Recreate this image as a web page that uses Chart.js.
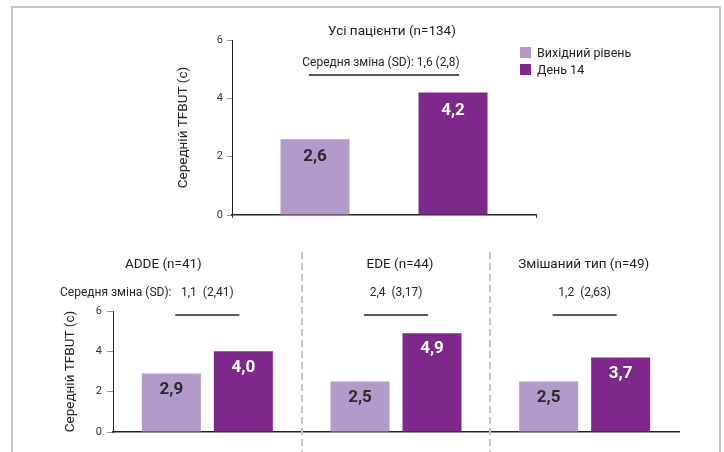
<!DOCTYPE html>
<html lang="uk">
<head>
<meta charset="utf-8">
<script src="https://cdn.jsdelivr.net/npm/chart.js@4.4.1/dist/chart.umd.min.js"></script>
<style>
  html, body { margin: 0; padding: 0; background: #fff; }
  #wrap { position: relative; width: 724px; height: 452px; overflow: hidden; font-family: Roboto, sans-serif; }
  #frame { position: absolute; left: 11px; top: 6px; width: 706px; height: 470px; border: 2px solid #c6c6c6; border-bottom: none; }
  canvas { position: absolute; left: 0; top: 0; }
  .legend { position: absolute; left: 520px; top: 44px; font-size: 12.5px; color: #222; }
  .legend-item { display: flex; align-items: center; height: 17px; }
  .legend-swatch { width: 11px; height: 11px; margin-right: 6px; }
</style>
</head>
<body>
<div id="wrap">
  <div id="frame"></div>
  <canvas id="bottom" width="724" height="452"></canvas>
  <canvas id="top" width="724" height="452"></canvas>
  <div class="legend" id="legend"></div>
</div>
<script>
// ---- data ----
const seriesNames = ['Вихідний рівень', 'День 14'];
const seriesColors = ['#b29aca', '#7f288c'];

const allTitle = ['Усі пацієнти (n=134)'];
const allBaseline = [2.6];
const allDay14 = [4.2];
const allChange = [1.6];
const allChangeSD = [2.8];

const groups = ['ADDE (n=41)', 'EDE (n=44)', 'Змішаний тип (n=49)'];
const grpBaseline = [2.9, 2.5, 2.5];
const grpDay14 = [4.0, 4.9, 3.7];
const grpChange = [1.1, 2.4, 1.2];
const grpChangeSD = [2.41, 3.17, 2.63];

const yTitle = 'Середній TFBUT (с)';
const changeLabel = 'Середня зміна (SD):';
const yMax = 6, yStep = 2;

const comma = v => String(v).replace('.', ',');
const fixed1 = v => v.toFixed(1).replace('.', ',');

// titles, change text, rules, separators and in-bar values
const panelText = {
  id: 'panelText',
  afterDraw(chart, args, o) {
    const { ctx } = chart;
    const x = chart.scales.x;
    ctx.save();
    ctx.textAlign = 'center';
    ctx.textBaseline = 'middle';

    chart.data.datasets.forEach((ds, di) => {
      chart.getDatasetMeta(di).data.forEach((bar, i) => {
        ctx.fillStyle = di === 0 ? '#2b2b2b' : '#ffffff';
        ctx.font = 'bold 17px Roboto';
        ctx.fillText(fixed1(ds.data[i]), bar.x, bar.y + o.labelDrop);
      });
    });

    const n = chart.data.labels.length;
    for (let i = 0; i < n; i++) {
      const cx = x.getPixelForValue(i);
      ctx.fillStyle = '#1e1e1e';
      ctx.font = '13.5px Roboto';
      ctx.fillText(o.titles[i], cx + o.titleShift[i], o.titleY);
      ctx.font = '12px Roboto';
      ctx.fillStyle = '#262626';
      ctx.fillText(o.changeText(i), cx + o.changeShift, o.changeY);
      ctx.strokeStyle = '#222';
      ctx.lineWidth = 1.5;
      ctx.beginPath();
      ctx.moveTo(cx - o.ruleHalf, o.ruleY);
      ctx.lineTo(cx + o.ruleHalf, o.ruleY);
      ctx.stroke();
      if (o.separators && i < n - 1) {
        const sx = Math.round((cx + x.getPixelForValue(i + 1)) / 2);
        ctx.strokeStyle = '#c8c8c8';
        ctx.lineWidth = 2;
        ctx.setLineDash([7, 4]);
        ctx.beginPath();
        ctx.moveTo(sx, o.sepTop);
        ctx.lineTo(sx, chart.height);
        ctx.stroke();
        ctx.setLineDash([]);
      }
    }
    if (o.leftLabel) {
      ctx.textAlign = 'left';
      ctx.font = '12px Roboto';
      ctx.fillStyle = '#262626';
      ctx.fillText(o.leftLabel, o.leftLabelX, o.changeY);
    }
    ctx.restore();
  }
};

function datasets(base, day) {
  return [base, day].map((d, i) => ({
    label: seriesNames[i],
    data: d,
    backgroundColor: seriesColors[i],
    borderWidth: 0
  }));
}

function scales(yWidth, tickLen, tickPad, xTickLen) {
  return {
    x: {
      ticks: { display: false },
      grid: { display: xTickLen > 0, drawOnChartArea: false, drawTicks: true, tickLength: xTickLen, color: '#444' },
      border: { display: true, color: '#222', width: 1.5 },
      afterFit: s => { s.height = 0; }
    },
    y: {
      min: 0, max: yMax,
      ticks: { stepSize: yStep, color: '#333', font: { family: 'Roboto', size: 11 }, padding: tickPad },
      grid: { drawOnChartArea: false, drawTicks: true, tickLength: tickLen, color: '#999' },
      border: { display: true, color: '#222', width: 1 },
      title: { display: true, text: yTitle, color: '#262626', font: { family: 'Roboto', size: 13.5 }, padding: { top: 6, bottom: 0 } },
      afterFit: s => { s.width = yWidth; }
    }
  };
}

const common = {
  responsive: false,
  animation: false,
  devicePixelRatio: 1,
  events: []
};

new Chart(document.getElementById('top'), {
  type: 'bar',
  data: { labels: allTitle, datasets: datasets(allBaseline, allDay14) },
  options: Object.assign({}, common, {
    layout: { padding: { left: 170, top: 40, right: 188, bottom: 237 } },
    datasets: { bar: { categoryPercentage: 0.908, barPercentage: 0.5 } },
    scales: scales(62, 5, 4, 3),
    plugins: {
      legend: { display: false },
      tooltip: { enabled: false },
      panelText: {
        labelDrop: 18,
        titles: allTitle, titleShift: [8], titleY: 32,
        changeText: i => changeLabel + ' ' + comma(allChange[i]) + ' (' + comma(allChangeSD[i]) + ')',
        changeShift: -3, changeY: 63,
        ruleHalf: 75, ruleY: 75
      }
    }
  }),
  plugins: [panelText]
});

new Chart(document.getElementById('bottom'), {
  type: 'bar',
  data: { labels: groups, datasets: datasets(grpBaseline, grpDay14) },
  options: Object.assign({}, common, {
    layout: { padding: { left: 57, top: 311, right: 45, bottom: 20 } },
    datasets: { bar: { categoryPercentage: 0.763, barPercentage: 0.82 } },
    scales: scales(56, 6, 5, 0),
    plugins: {
      legend: { display: false },
      tooltip: { enabled: false },
      panelText: {
        labelDrop: 16,
        titles: groups, titleShift: [-44, 4, -1], titleY: 265,
        changeText: i => comma(grpChange[i]) + '  (' + comma(grpChangeSD[i]) + ')',
        changeShift: 0, changeY: 293,
        ruleHalf: 32, ruleY: 315,
        separators: true, sepTop: 252,
        leftLabel: changeLabel, leftLabelX: 60
      }
    }
  }),
  plugins: [panelText]
});

document.getElementById('legend').innerHTML = seriesNames.map((s, i) =>
  `<div class="legend-item"><span class="legend-swatch" style="background:${seriesColors[i]}"></span>${s}</div>`
).join('');
</script>
</body>
</html>
